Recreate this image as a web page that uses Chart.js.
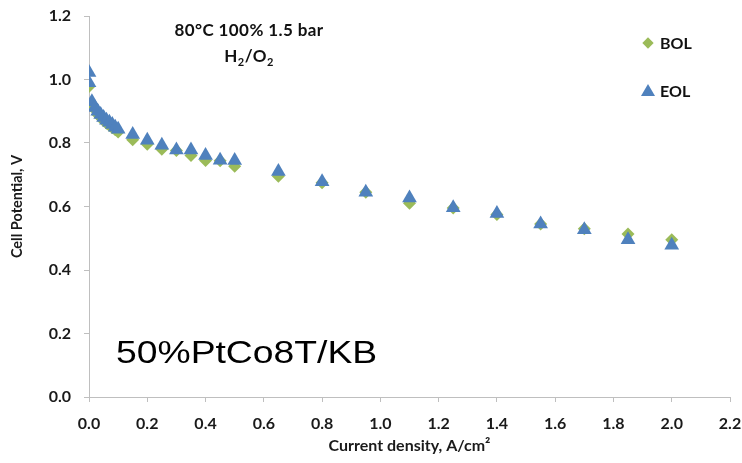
<!DOCTYPE html>
<html>
<head>
<meta charset="utf-8">
<script src="https://cdn.jsdelivr.net/npm/chart.js@4/dist/chart.umd.min.js"></script>
<style>
  body { margin: 0; background: #fff; }
  #wrap { position: relative; width: 742px; height: 463px; }
  .note { position: absolute; font-family: Lato, "Open Sans", sans-serif; font-weight: bold; color: #111; white-space: nowrap; }
  #cond { left: 139px; top: 17px; width: 220px; text-align: center; font-size: 17px; line-height: 26px; letter-spacing: 0.4px; }
  #cond sub { font-size: 11px; line-height: 0; }
  .leg { font-size: 16px; left: 660px; }
  .diamond { position: absolute; width: 8px; height: 8px; background: #9bbb59; transform: rotate(45deg); }
  .tri { position: absolute; width: 0; height: 0; border-left: 7px solid transparent; border-right: 7px solid transparent; border-bottom: 12px solid #4f81bd; }
  #sample { position: absolute; left: 116px; top: 335px; font-family: "Liberation Sans", Arial, sans-serif; font-size: 31px; color: #000; transform-origin: left top; white-space: nowrap; }
</style>
</head>
<body>
<div id="wrap">
  <canvas id="ivChart" width="742" height="463"></canvas>
  <div class="note" id="cond">80°C 100% 1.5 bar<br>H<sub>2</sub>/O<sub>2</sub></div>
  <div class="diamond" style="left:644px; top:39px;"></div>
  <div class="note leg" style="top:33px;">BOL</div>
  <div class="tri" style="left:641px; top:84px;"></div>
  <div class="note leg" style="top:81px;">EOL</div>
  <div id="sample">50%PtCo8T/KB</div>
</div>
<script>
// Polarization data
const bolCurrent = [0, 0.01, 0.02, 0.03, 0.04, 0.05, 0.06, 0.07, 0.08, 0.09, 0.1,
  0.15, 0.2, 0.25, 0.3, 0.35, 0.4, 0.45, 0.5, 0.65, 0.8, 0.95, 1.1, 1.25, 1.4, 1.55, 1.7, 1.85, 2.0];
const bolVoltage = [0.978, 0.922, 0.905, 0.89, 0.88, 0.87, 0.862, 0.855, 0.848, 0.842, 0.835,
  0.81, 0.796, 0.78, 0.776, 0.761, 0.745, 0.744, 0.727, 0.695, 0.675, 0.645, 0.61, 0.595, 0.575, 0.545, 0.53, 0.513, 0.495];

const eolCurrent = [0, 0, 0.01, 0.02, 0.03, 0.04, 0.05, 0.06, 0.07, 0.08, 0.09, 0.1,
  0.15, 0.2, 0.25, 0.3, 0.35, 0.4, 0.45, 0.5, 0.65, 0.8, 0.95, 1.1, 1.25, 1.4, 1.55, 1.7, 1.85, 2.0];
const eolVoltage = [1.022, 0.99, 0.93, 0.912, 0.9, 0.89, 0.88, 0.872, 0.865, 0.858, 0.85, 0.843,
  0.827, 0.809, 0.793, 0.778, 0.778, 0.761, 0.746, 0.745, 0.71, 0.678, 0.645, 0.627, 0.596, 0.578, 0.545, 0.527, 0.495, 0.478];

const xTicks = [0, 0.2, 0.4, 0.6, 0.8, 1.0, 1.2, 1.4, 1.6, 1.8, 2.0, 2.2];
const yTicks = [0, 0.2, 0.4, 0.6, 0.8, 1.0, 1.2];

function toPoints(xs, ys) {
  return xs.map((x, i) => ({ x: x, y: ys[i] }));
}

// stretch the sample label to the width it has in the reference
const sample = document.getElementById('sample');
sample.style.transform = 'scaleX(' + (261 / sample.offsetWidth) + ')';

const fontFamily = 'Lato, "Open Sans", sans-serif';
const tickFont = { family: fontFamily, weight: 'bold', size: 16 };
const axisColor = '#bfbfbf';

new Chart(document.getElementById('ivChart').getContext('2d'), {
  type: 'scatter',
  data: {
    datasets: [
      {
        label: 'EOL',
        data: toPoints(eolCurrent, eolVoltage),
        pointStyle: 'triangle',
        pointRadius: 8.5,
        backgroundColor: '#4f81bd',
        borderColor: '#4f81bd',
        borderWidth: 0,
        order: 1
      },
      {
        label: 'BOL',
        data: toPoints(bolCurrent, bolVoltage),
        pointStyle: 'rectRot',
        pointRadius: 6.5,
        backgroundColor: '#9bbb59',
        borderColor: '#9bbb59',
        borderWidth: 0,
        order: 2
      }
    ]
  },
  options: {
    responsive: false,
    animation: false,
    layout: { padding: { left: 0, top: 16, right: 12, bottom: 0 } },
    plugins: {
      legend: { display: false },
      tooltip: { enabled: false }
    },
    scales: {
      x: {
        type: 'linear',
        min: 0,
        max: 2.2,
        afterBuildTicks: (scale) => { scale.ticks = xTicks.map(v => ({ value: v })); },
        afterFit: (scale) => {
          scale.height = 66;
          scale.paddingLeft = 0;
          scale.paddingRight = 0;
        },
        ticks: {
          font: tickFont,
          color: '#1a1a1a',
          padding: 12,
          maxRotation: 0,
          callback: (v) => Number(v).toFixed(1)
        },
        grid: { drawOnChartArea: false, drawTicks: true, tickLength: 5, color: axisColor },
        border: { color: axisColor },
        title: {
          display: true,
          text: 'Current density, A/cm²',
          font: { family: fontFamily, weight: 'bold', size: 16 },
          color: '#1a1a1a',
          padding: { top: 0, bottom: 8 }
        }
      },
      y: {
        type: 'linear',
        min: 0,
        max: 1.2,
        afterBuildTicks: (scale) => { scale.ticks = yTicks.map(v => ({ value: v })); },
        afterFit: (scale) => {
          scale.width = 89;
          scale.paddingTop = 0;
          scale.paddingBottom = 0;
        },
        ticks: {
          font: tickFont,
          color: '#1a1a1a',
          padding: 13,
          callback: (v) => Number(v).toFixed(1)
        },
        grid: { drawOnChartArea: false, drawTicks: true, tickLength: 5, color: axisColor },
        border: { color: axisColor },
        title: {
          display: true,
          text: 'Cell Potential, V',
          font: { family: fontFamily, weight: 'bold', size: 14.5 },
          color: '#1a1a1a',
          padding: { top: 9, bottom: 9 }
        }
      }
    }
  }
});
</script>
</body>
</html>
